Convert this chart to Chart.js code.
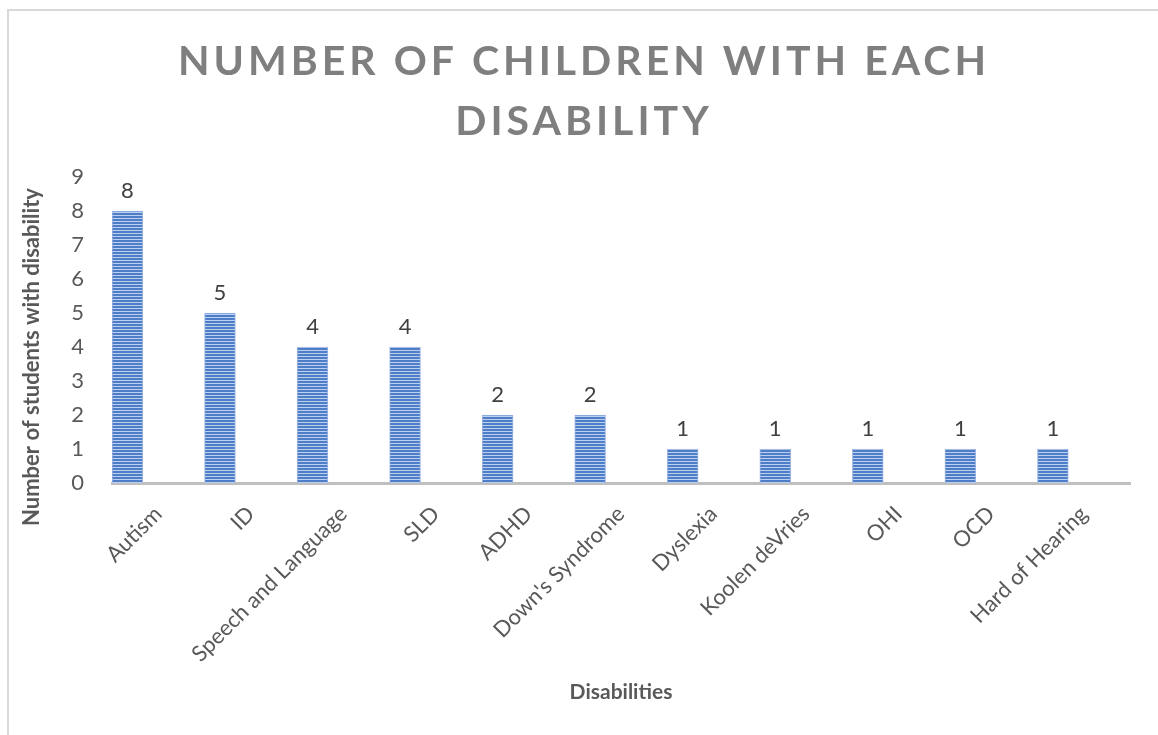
<!DOCTYPE html>
<html>
<head>
<meta charset="utf-8">
<script src="https://cdn.jsdelivr.net/npm/chart.js@4/dist/chart.umd.min.js"></script>
<style>
  body { margin: 0; background: #fff; }
  #chart { display: block; }
</style>
</head>
<body>
<canvas id="chart" width="1158" height="735"></canvas>
<script>
const categories = ['Autism', 'ID', 'Speech and Language', 'SLD', 'ADHD', "Down's Syndrome",
  'Dyslexia', 'Koolen deVries', 'OHI', 'OCD', 'Hard of Hearing'];
const counts = [8, 5, 4, 4, 2, 2, 1, 1, 1, 1, 1];
// the original sheet has two more (empty) series in each cluster
const emptySeriesA = [];
const emptySeriesB = [];
const yMax = 9;

const titleLines = ['NUMBER OF CHILDREN WITH EACH', 'DISABILITY'];
const yTitle = 'Number of students with disability';
const xTitle = 'Disabilities';
const fontFamily = 'Lato, "Open Sans", sans-serif';

// striped fill like the excel bar
const makeStripes = () => {
  const c = document.createElement('canvas');
  c.width = 4;
  c.height = 3;
  const g = c.getContext('2d');
  g.fillStyle = '#4f7ec8';
  g.fillRect(0, 0, 4, 2);
  g.fillStyle = '#bccfee';
  g.fillRect(0, 2, 4, 1);
  return g.createPattern(c, 'repeat');
};

const extras = {
  id: 'extras',
  beforeDraw(chart) {
    const ctx = chart.ctx;
    ctx.save();
    ctx.strokeStyle = '#d9d9d9';
    ctx.lineWidth = 2;
    ctx.beginPath();
    ctx.moveTo(8, chart.height);
    ctx.lineTo(8, 10);
    ctx.lineTo(chart.width, 10);
    ctx.stroke();
    ctx.restore();
  },
  afterDraw(chart) {
    const ctx = chart.ctx;
    ctx.save();
    // title
    ctx.fillStyle = '#7f7f7f';
    ctx.font = 'bold 41px ' + fontFamily;
    ctx.textAlign = 'center';
    ctx.textBaseline = 'alphabetic';
    ctx.letterSpacing = '4px';
    ctx.fillText(titleLines[0], 584, 75);
    ctx.fillText(titleLines[1], 584, 135);
    ctx.letterSpacing = '0px';
    // y axis title
    ctx.fillStyle = '#595959';
    ctx.font = 'bold 22px ' + fontFamily;
    ctx.translate(32, 357);
    ctx.rotate(-Math.PI / 2);
    ctx.textBaseline = 'middle';
    ctx.fillText(yTitle, 0, 0);
    ctx.restore();
    // value labels
    ctx.save();
    ctx.fillStyle = '#404040';
    ctx.font = '22px ' + fontFamily;
    ctx.textAlign = 'center';
    ctx.textBaseline = 'bottom';
    chart.getDatasetMeta(0).data.forEach((bar, i) => {
      ctx.fillText(String(counts[i]), bar.x, bar.y - 9);
    });
    ctx.restore();
  }
};

new Chart(document.getElementById('chart'), {
  type: 'bar',
  data: {
    labels: categories,
    datasets: [
      {
        data: counts,
        backgroundColor: makeStripes(),
        borderColor: '#9fb8e3',
        borderWidth: 1,
        borderSkipped: 'bottom'
      },
      { data: emptySeriesA },
      { data: emptySeriesB }
    ]
  },
  options: {
    responsive: false,
    animation: false,
    events: [],
    layout: { padding: { top: 177, left: 14, right: 28, bottom: 0 } },
    datasets: { bar: { categoryPercentage: 1, barPercentage: 1 } },
    plugins: { legend: { display: false }, tooltip: { enabled: false } },
    scales: {
      x: {
        grid: { display: false },
        border: { display: true, color: '#bfbfbf', width: 3 },
        ticks: {
          color: '#595959',
          font: { family: fontFamily, size: 22 },
          minRotation: 45,
          maxRotation: 45,
          padding: 10
        },
        title: {
          display: true,
          text: xTitle,
          color: '#595959',
          font: { family: fontFamily, size: 21, weight: 'bold' },
          padding: { top: 4, bottom: 30 }
        },
        afterFit(scale) { scale.height = 252; }
      },
      y: {
        min: 0,
        max: yMax,
        grid: { display: false },
        border: { display: false },
        ticks: {
          stepSize: 1,
          color: '#595959',
          font: { family: fontFamily, size: 22 },
          padding: 20
        },
        afterFit(scale) { scale.width = 98; }
      }
    }
  },
  plugins: [extras]
});
</script>
</body>
</html>
